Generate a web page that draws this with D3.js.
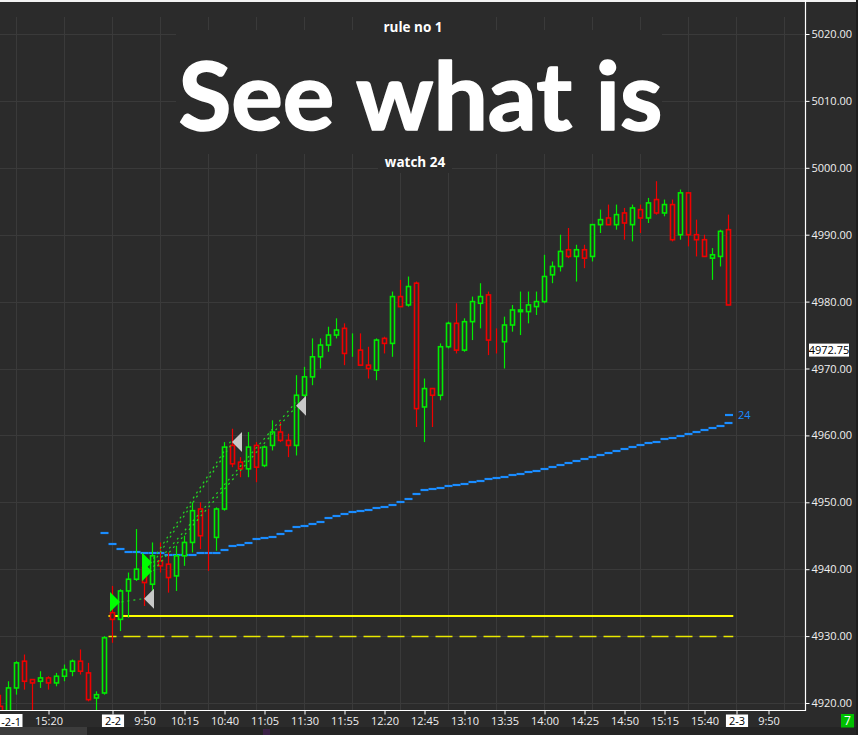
<!DOCTYPE html>
<html><head><meta charset="utf-8">
<script src="https://cdn.jsdelivr.net/npm/d3@7"></script>
<style>html,body{margin:0;padding:0;background:#2b2b2b;overflow:hidden}text{font-family:"Open Sans","Noto Sans",sans-serif}</style>
</head><body><svg id="c" width="858" height="735"></svg>
<script>
// ---------- DATA ----------
const firstBar = -14; // bar index of first candle (2-1 session), 0 = 2-2 9:30
const opens  = [4919.5,4917.5,4922.25,4926.25,4923.5,4923.25,4923.75,4923.0,4924.0,4924.75,4926.25,4924.5,4920.75,4921.5,
  4933.5,4932.5,4936.75,4938.5,4940.25,4937.75,4941.25,4940.75,4939.0,4942.0,4944.0,4949.0,4945.0,4944.75,4949.0,4958.5,4956.0,4955.0,4958.5,4955.5,
  4958.5,4960.5,4959.25,4958.5,4966.0,4968.75,4971.75,4973.5,4975.0,4976.0,4972.5,4972.75,4970.5,4969.75,4974.5,4973.75,4980.75,4979.5,4982.75,4964.25,
  4967.0,4966.0,4973.25,4976.75,4972.75,4977.0,4979.75,4981.0,4974.25,4974.0,4976.5,4978.5,4978.5,4979.25,4980.0,4984.0,4985.25,4987.75,4986.75,4987.75,
  4986.75,4991.5,4992.5,4991.5,4993.25,4991.5,4993.75,4992.5,4995.25,4993.25,4994.5,4990.0,4996.25,4990.0,4989.25,4986.5,4986.75,4990.75];
const highs  = [4921.25,4923.25,4926.25,4927.25,4923.5,4924.75,4924.0,4924.5,4925.75,4926.5,4928.0,4926.0,4921.75,4930.0,
  4937.5,4937.0,4939.5,4946.0,4941.5,4944.0,4944.0,4942.5,4943.5,4945.0,4950.0,4950.0,4949.0,4949.25,4959.0,4961.0,4956.75,4960.5,4959.0,4958.5,
  4962.25,4962.0,4960.25,4969.0,4970.25,4974.5,4974.5,4976.25,4977.5,4976.75,4975.25,4975.25,4973.25,4974.5,4974.75,4981.5,4983.25,4983.75,4983.0,4968.5,
  4967.0,4973.75,4977.0,4979.75,4977.5,4980.75,4982.75,4981.5,4976.0,4977.75,4979.5,4981.5,4981.5,4981.5,4987.0,4986.0,4990.0,4991.0,4988.5,4988.5,
  4991.5,4993.75,4994.5,4994.5,4994.0,4994.5,4994.5,4995.5,4998.0,4995.25,4995.25,4996.75,4996.25,4992.25,4990.0,4988.0,4990.75,4993.0];
const lows   = [4916.0,4916.5,4921.25,4922.0,4918.5,4922.25,4922.0,4922.5,4923.25,4924.0,4924.25,4920.25,4918.5,4921.25,
  4929.0,4930.75,4932.75,4938.25,4934.5,4936.0,4939.5,4936.5,4936.75,4940.5,4942.5,4943.0,4939.75,4942.75,4948.75,4955.25,4953.75,4953.75,4953.0,4955.25,
  4957.75,4959.0,4956.75,4957.0,4965.75,4967.5,4970.0,4972.5,4974.5,4970.5,4971.75,4970.5,4968.5,4968.25,4972.25,4971.75,4979.25,4979.25,4961.25,4959.0,
  4961.25,4965.25,4973.0,4972.25,4972.5,4974.25,4976.0,4972.0,4972.25,4970.0,4975.5,4975.0,4976.75,4978.0,4979.75,4982.75,4984.5,4986.5,4983.0,4985.0,
  4986.0,4990.25,4991.5,4990.75,4989.25,4989.0,4990.25,4991.75,4993.0,4992.75,4989.0,4989.25,4988.25,4986.75,4986.75,4983.25,4985.25,4979.5];
const closes = [4917.5,4922.25,4926.0,4923.25,4923.0,4923.75,4923.0,4924.0,4925.0,4926.25,4924.75,4920.5,4921.25,4929.75,
  4932.5,4936.75,4938.5,4940.0,4938.0,4942.0,4940.5,4938.75,4942.0,4944.0,4948.75,4945.0,4945.0,4949.0,4958.25,4955.75,4955.0,4958.25,4955.25,4958.25,
  4960.5,4959.25,4958.5,4966.0,4968.75,4971.75,4973.5,4975.0,4975.75,4972.25,4972.5,4970.5,4970.0,4974.25,4973.75,4980.75,4979.25,4982.25,4964.0,4967.0,
  4966.0,4973.25,4976.75,4972.75,4977.0,4980.0,4980.75,4974.25,4974.25,4976.5,4978.75,4978.75,4979.5,4980.0,4983.75,4985.25,4987.5,4986.75,4987.75,4986.5,
  4991.5,4992.25,4991.5,4993.0,4991.75,4994.0,4992.5,4994.75,4993.25,4994.5,4989.25,4996.25,4990.0,4989.25,4986.75,4987.0,4990.5,4979.5];
const dojiUpBars = [30]; // doji bars drawn green

// "24" average line (step), starting at bar -1
const avgStart = -1;
const avgValues = [4945.46,4943.81,4943.02,4942.62,4942.62,4942.38,4942.38,4942.38,4942.08,4942.08,4942.08,4942.17,4942.35,4942.35,4942.42,
  4942.87,4943.54,4943.57,4943.96,4944.51,4944.66,4944.86,4945.22,4945.75,4946.35,4946.46,4946.76,4947.1,4947.61,
  4947.95,4948.25,4948.55,4948.7,4948.85,4949.15,4949.3,4949.6,4950.05,4950.5,4951.24,4951.84,4951.99,4952.14,4952.44,4952.59,4952.74,
  4953.03,4953.18,4953.48,4953.63,4953.78,4954.08,4954.23,4954.53,4954.68,4954.98,4955.28,4955.58,4955.87,4956.17,4956.47,4956.77,4957.07,
  4957.37,4957.67,4957.97,4958.31,4958.61,4958.82,4959.06,4959.46,4959.66,4959.91,4960.25,4960.51,4960.85,4961.15,4961.45,4961.9];
const avgLabel = "24";
const avgLabelPrice = 4963.1;

// trade markers
const entries = [{bar:0, price:4935.1},{bar:4, price:4941.0},{bar:4, price:4939.7}];
const exits   = [{bar:4, price:4935.6},{bar:15, price:4959.0},{bar:23, price:4964.45}];
const tradeLinks = [
  {fromBar:0, fromPrice:4935.1, toBar:4, toPrice:4935.6},
  {fromBar:4, fromPrice:4941.6, toBar:15, toPrice:4959.3},
  {fromBar:4, fromPrice:4941.0, toBar:15, toPrice:4958.7},
  {fromBar:4, fromPrice:4940.4, toBar:23, toPrice:4964.9},
  {fromBar:4, fromPrice:4939.8, toBar:23, toPrice:4964.2}];

// horizontal levels
const solidLevel = 4933.0;
const dashedLevel = 4930.0;
const levelFromBar = -0.5, levelToBar = 77.6;

// axes
const xTickBars   = [-8,0,4,9,14,19,24,29,34,39,44,49,54,59,64,69,74,78,82];
const xTickLabels = ["15:20","2-2","9:50","10:15","10:40","11:05","11:30","11:55","12:20","12:45","13:10","13:35","14:00","14:25","14:50","15:15","15:40","2-3","9:50"];
const dateLabels = ["2-2","2-3"];
const firstDateLabel = "-2-1";
const yTicks = [4920,4930,4940,4950,4960,4970,4980,4990,5000,5010,5020];
const lastPrice = 4972.75;
const titleTop = "rule no 1", titleMain = "See what is", titleBottom = "watch 24";
const badge = "7";

// ---------- DRAW ----------
const BG = "#2b2b2b", GRID = "#3a3a3a", UP = "#00ee00", DN = "#f00000", BLUE = "#1a8cff";
const svg = d3.select("#c");
const W = 858, H = 735, PR = 805, PB = 710;
const x = d3.scaleLinear().domain([0, 1]).range([112.5, 120.5]);
const y = d3.scaleLinear().domain([4920, 5020]).range([703, 34]);

svg.append("rect").attr("width", W).attr("height", H).attr("fill", BG);
svg.append("defs").append("clipPath").attr("id","plot").append("rect").attr("x",0).attr("y",0).attr("width",PR).attr("height",PB);

// grid
const grid = svg.append("g").attr("clip-path","url(#plot)");
grid.selectAll("line.v").data(d3.range(-12, 86, 6)).join("line")
  .attr("x1", d => Math.round(x(d)) - 0.5).attr("x2", d => Math.round(x(d)) - 0.5)
  .attr("y1", 17).attr("y2", PB).attr("stroke", GRID).attr("stroke-width", 1);
grid.selectAll("line.h").data(yTicks).join("line")
  .attr("x1", 0).attr("x2", PR).attr("y1", d => Math.round(y(d)) + 0.5).attr("y2", d => Math.round(y(d)) + 0.5)
  .attr("stroke", GRID).attr("stroke-width", 1);

// title backgrounds + text
svg.append("rect").attr("x",378).attr("y",15).attr("width",72).attr("height",17).attr("fill",BG);
svg.append("rect").attr("x",176).attr("y",30).attr("width",486).attr("height",124).attr("fill",BG);
svg.append("rect").attr("x",378).attr("y",153).attr("width",74).attr("height",20).attr("fill",BG);
svg.append("text").attr("x",413).attr("y",32).attr("text-anchor","middle").attr("fill","#fff")
  .attr("font-size",13.5).attr("font-weight",700).text(titleTop);
const big = svg.append("text").attr("x",420.5).attr("y",130).attr("text-anchor","middle").attr("fill","#fff")
  .style("font-family","Lato, 'Open Sans', sans-serif")
  .attr("stroke","#fff").attr("stroke-width",1.6).attr("stroke-linejoin","round")
  .attr("font-size",93).attr("font-weight",700).text(titleMain);
const bw = big.node().getComputedTextLength();
if (Math.abs(bw - 484) > 3) big.attr("textLength", 484).attr("lengthAdjust","spacingAndGlyphs");
svg.append("text").attr("x",415).attr("y",167).attr("text-anchor","middle").attr("fill","#fff")
  .attr("font-size",13.5).attr("font-weight",700).text(titleBottom);

const plot = svg.append("g").attr("clip-path","url(#plot)");

// levels
plot.append("line").attr("x1", x(levelFromBar)).attr("x2", x(levelToBar))
  .attr("y1", y(solidLevel)).attr("y2", y(solidLevel)).attr("stroke","#ffff00").attr("stroke-width",2);
plot.append("line").attr("x1", x(levelFromBar)).attr("x2", x(levelToBar))
  .attr("y1", Math.round(y(dashedLevel))+0.5).attr("y2", Math.round(y(dashedLevel))+0.5).attr("stroke","#e8e800")
  .attr("stroke-width",1.3).attr("stroke-dasharray","17,7").attr("stroke-dashoffset",9);

// average step line
const avg = avgValues.map((v,j) => ({i: avgStart + j, v}));
plot.selectAll("line.avg").data(avg).join("line")
  .attr("x1", d => x(d.i) - 4).attr("x2", d => x(d.i) + 4)
  .attr("y1", d => Math.round(y(d.v))).attr("y2", d => Math.round(y(d.v)))
  .attr("stroke", BLUE).attr("stroke-width", 2.2);
plot.append("line").attr("x1", x(77) - 3.5).attr("x2", x(77) + 4.5)
  .attr("y1", Math.round(y(avgLabelPrice))).attr("y2", Math.round(y(avgLabelPrice)))
  .attr("stroke", BLUE).attr("stroke-width", 2.2);
plot.append("text").attr("x", x(77) + 9.5).attr("y", y(avgLabelPrice) + 4).attr("fill", BLUE)
  .attr("font-size", 11).text(avgLabel);

// candles
const bars = opens.map((o,j) => ({i: firstBar + j, o, h: highs[j], l: lows[j], c: closes[j]}));
const col = d => d.c > d.o ? UP : d.c < d.o ? DN : (dojiUpBars.includes(d.i) ? UP : DN);
plot.selectAll("line.wick").data(bars).join("line")
  .attr("x1", d => x(d.i)).attr("x2", d => x(d.i)).attr("y1", d => y(d.h)).attr("y2", d => y(d.l))
  .attr("stroke", col).attr("stroke-width", 1.2);
plot.selectAll("rect.body").data(bars).join("rect")
  .attr("x", d => x(d.i) - 2).attr("width", 4)
  .attr("y", d => y(Math.max(d.o, d.c))).attr("height", d => Math.abs(y(d.o) - y(d.c)))
  .attr("fill", BG).attr("stroke", col).attr("stroke-width", 1.6);

// trade links
plot.selectAll("line.link").data(tradeLinks).join("line")
  .attr("x1", d => x(d.fromBar) + 9).attr("y1", d => y(d.fromPrice))
  .attr("x2", d => x(d.toBar) - 1).attr("y2", d => y(d.toPrice))
  .attr("stroke", "#22dd22").attr("stroke-width", 1.2).attr("stroke-dasharray", "2,4");
// entry triangles (pointing right)
plot.selectAll("path.entry").data(entries).join("path")
  .attr("d", d => { const cx = x(d.bar), cy = y(d.price); return `M${cx-2.5},${cy-10}L${cx+7.5},${cy}L${cx-2.5},${cy+10}Z`; })
  .attr("fill", "#00ff00");
// exit triangles (pointing left)
plot.selectAll("path.exit").data(exits).join("path")
  .attr("d", d => { const cx = x(d.bar) - 0.5, cy = y(d.price); return `M${cx},${cy}L${cx+10},${cy-10}L${cx+10},${cy+10}Z`; })
  .attr("fill", "#c8c8c8");

// frame
svg.append("rect").attr("x",0).attr("y",0).attr("width",856).attr("height",2).attr("fill","#f2f2f2");
svg.append("line").attr("x1",PR+0.5).attr("x2",PR+0.5).attr("y1",0).attr("y2",PB+1).attr("stroke","#fff").attr("stroke-width",1.2);
svg.append("line").attr("x1",0).attr("x2",PR+1).attr("y1",PB+0.5).attr("y2",PB+0.5).attr("stroke","#fff").attr("stroke-width",1.2);

// right axis
const ra = svg.append("g").attr("transform", `translate(${PR+0.5},0)`)
  .call(d3.axisRight(y).tickValues(yTicks).tickFormat(d3.format(".2f")).tickSize(4).tickPadding(2));
ra.select(".domain").remove();
ra.selectAll("line").attr("stroke","#fff");
ra.selectAll("text").attr("fill","#f0f0f0").attr("font-size",11).attr("font-family",'"Open Sans",sans-serif');
// last price box
svg.append("rect").attr("x",809).attr("y",y(lastPrice)-6.5).attr("width",40).attr("height",13).attr("fill","#fff");
svg.append("text").attr("x",829).attr("y",y(lastPrice)+4).attr("text-anchor","middle").attr("fill","#000")
  .attr("font-size",11).text(d3.format(".2f")(lastPrice));

// bottom axis
const ba = svg.append("g").attr("transform", `translate(0,${PB+0.5})`)
  .call(d3.axisBottom(x).tickValues(xTickBars).tickFormat((d,k) => xTickLabels[k]).tickSize(4).tickPadding(3));
ba.select(".domain").remove();
ba.selectAll("line").attr("stroke","#fff");
ba.selectAll("text").attr("fill","#f0f0f0").attr("font-size",11).attr("font-family",'"Open Sans",sans-serif');
ba.selectAll(".tick").each(function(d,k){
  if (dateLabels.includes(xTickLabels[k])) {
    const g = d3.select(this), t = g.select("text");
    const w = t.node().getComputedTextLength();
    g.insert("rect","text").attr("x",-w/2-3).attr("y",4).attr("width",w+6).attr("height",15).attr("fill","#fff");
    t.attr("fill","#000");
  }
});
svg.append("rect").attr("x",0).attr("y",PB+4).attr("width",22.5).attr("height",15).attr("fill","#fff");
svg.append("text").attr("x",21).attr("y",PB+15.5).attr("text-anchor","end").attr("fill","#000").attr("font-size",11).text(firstDateLabel);

// bottom strip
svg.append("rect").attr("x",0).attr("y",727).attr("width",W).attr("height",8).attr("fill","#242424");
svg.append("rect").attr("x",0).attr("y",727).attr("width",87).attr("height",8).attr("fill","#3c3c3c");
svg.append("rect").attr("x",263).attr("y",729).attr("width",7).attr("height",6).attr("fill","#3b2146");
svg.append("rect").attr("x",856).attr("y",0).attr("width",2).attr("height",H).attr("fill","#1e1e1e");
// badge
svg.append("rect").attr("x",841).attr("y",714).attr("width",13).attr("height",13.5).attr("fill","#00c000");
svg.append("text").attr("x",847.5).attr("y",725).attr("text-anchor","middle").attr("fill","#fff").attr("font-size",12).text(badge);
</script></body></html>
